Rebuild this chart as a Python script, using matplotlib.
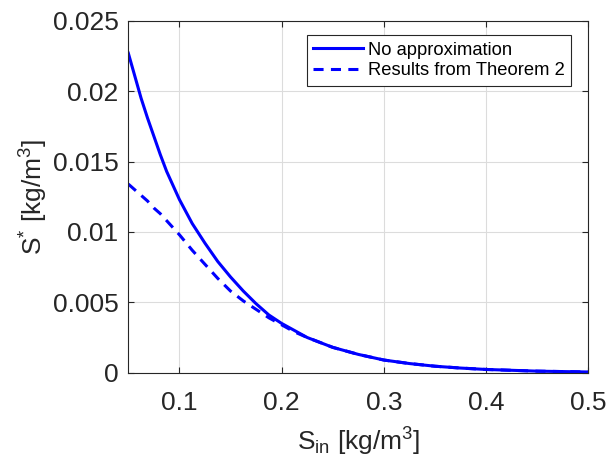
import matplotlib
matplotlib.use("Agg")
import matplotlib.pyplot as plt

plt.rcParams["font.family"] = ["Liberation Sans", "DejaVu Sans"]
plt.rcParams["mathtext.default"] = "regular"

# inflow concentration S_in [kg/m^3]
s_in = [0.05, 0.05625, 0.0625, 0.06875, 0.075, 0.08125, 0.0875, 0.09375,
        0.1, 0.1125, 0.125, 0.1375, 0.15, 0.1625, 0.175, 0.1875, 0.2, 0.2125,
        0.225, 0.25, 0.275, 0.3, 0.325, 0.35, 0.375, 0.4, 0.45, 0.5]
# S* without approximation
s_exact = [0.0227, 0.0211, 0.0195, 0.0181, 0.0168, 0.0155, 0.0143, 0.0133,
           0.0123, 0.0106, 0.0092, 0.0079, 0.0068, 0.0058, 0.0049, 0.0041,
           0.0035, 0.0030, 0.0025, 0.0018, 0.0013, 0.0009, 0.00065, 0.00046,
           0.00033, 0.00023, 0.00011, 0.00005]
# S* from Theorem 2
s_thm2 = [0.0134, 0.0130, 0.0126, 0.0122, 0.0117, 0.0113, 0.0108, 0.0103,
          0.0098, 0.0087, 0.0077, 0.0067, 0.0058, 0.0051, 0.0045, 0.0039,
          0.0034, 0.0029, 0.0025, 0.0018, 0.0013, 0.0009, 0.00065, 0.00046,
          0.00033, 0.00023, 0.00011, 0.00005]

xticks = [0.1, 0.2, 0.3, 0.4, 0.5]
yticks = [0, 0.005, 0.01, 0.015, 0.02, 0.025]
ytick_labels = ["0", "0.005", "0.01", "0.015", "0.02", "0.025"]

dark = "#262626"

fig = plt.figure(figsize=(6.09, 4.62), dpi=100)
ax = fig.add_axes([0.2107, 0.1933, 0.7553, 0.7617])

ax.plot(s_in, s_exact, color="blue", lw=2.2, label="No approximation")
ax.plot(s_in, s_thm2, color="blue", lw=2.2, linestyle=(0, (3.3, 2.4)),
        label="Results from Theorem 2")

ax.set_xlim(0.05, 0.5)
ax.set_ylim(0, 0.025)
ax.set_xticks(xticks)
ax.set_xticklabels([str(t) for t in xticks])
ax.set_yticks(yticks)
ax.set_yticklabels(ytick_labels)

ax.grid(True, color="#dcdcdc", lw=0.8)
ax.set_axisbelow(True)
ax.tick_params(direction="in", top=True, right=True, length=4, width=0.8,
               colors=dark, labelsize=19)
ax.tick_params(axis="x", pad=13)
ax.tick_params(axis="y", pad=7)
for sp in ax.spines.values():
    sp.set_color(dark)
    sp.set_linewidth(0.8)

ax.set_xlabel("S$_{in}$ [kg/m$^{3}$]", fontsize=19, color=dark, labelpad=8)
ax.set_ylabel("S$^{*}$ [kg/m$^{3}$]", fontsize=19, color=dark, labelpad=2)

leg = ax.legend(loc="upper right", fontsize=13.2, frameon=True, fancybox=False,
                framealpha=1, edgecolor=dark, handlelength=2.7,
                handletextpad=0.3, borderpad=0.35, labelspacing=0.2,
                bbox_to_anchor=(0.983, 0.985))
leg.get_frame().set_linewidth(0.8)

fig.savefig("out.png", dpi=100)
